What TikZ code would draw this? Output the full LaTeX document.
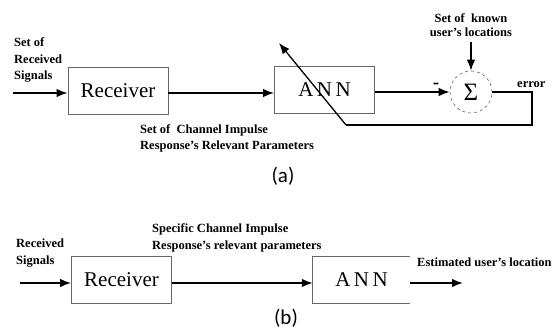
\documentclass[tikz,border=0pt]{standalone}
\usepackage{fontspec}
\setmainfont{Liberation Serif}
\newfontfamily\capfont{Carlito}
\usetikzlibrary{arrows.meta}
\begin{document}
\begin{tikzpicture}[x=1pt,y=-1pt,
  box/.style={draw=black!60, line width=0.8pt, minimum width=100pt, minimum height=47pt, inner sep=0pt, font=\fontsize{21}{22}\selectfont},
  openbox/.style={minimum width=97pt, minimum height=46pt, inner sep=0pt, font=\fontsize{21}{22}\selectfont},
  sig/.style={line width=1.6pt, -{Latex[length=11pt,width=8.5pt]}},
  lbl/.style={font=\bfseries\fontsize{12.5}{16.7}\selectfont, align=left, inner sep=0pt},
  lbls/.style={font=\bfseries\fontsize{12.5}{14}\selectfont, align=center, inner sep=0pt},
  captxt/.style={font=\capfont\fontsize{21}{22}\selectfont, inner sep=0pt}]
\useasboundingbox (0,0) rectangle (554,330);
% ---------- (a) ----------
\coordinate (in1) at (13,93);
\node[box] (rx1) at (118,90.5) {Receiver};
\node[box] (ann1) at (324.5,90) {A\,N\,N};
\node[draw=black!60, dashed, line width=0.6pt, circle, minimum size=42pt, inner sep=0pt, font=\fontsize{25}{25}\selectfont] (sum) at (471,92) {Σ};
\node[lbl, anchor=west] (sr) at (14,60) {Set of\\Received\\Signals};
\node[lbls] (known) at (471,25) {Set of \ known\\user's locations};
\node[lbl, anchor=west] (err) at (517,85) {error};
\node[lbl, anchor=west] (par1) at (140,138.5) {Set of \ Channel Impulse\\Response's Relevant Parameters};
\node[font=\bfseries\fontsize{19}{19}\selectfont, inner sep=0pt] (minus) at (436,86) {-};
\node[captxt] (capa) at (283,176) {(a)};
\coordinate (f1) at (532,92);
\coordinate (f2) at (532,125);
\coordinate (f3) at (346,125);
\coordinate (tip) at (279,43);
\draw[sig] (in1) -- (in1 -| rx1.west);
\draw[sig] (in1 -| rx1.east) -- (in1 -| ann1.west);
\draw[sig] (sum.west -| ann1.east) -- (sum.west);
\draw[sig] (known.south) ++(0,5) -- (sum.north);
\draw[line width=1.2pt] (sum.east) -- (f1) -- (f2) -- (f3);
\draw[line width=1.3pt, -{Latex[length=11pt,width=8.5pt]}] (f3) -- (tip);
% ---------- (b) ----------
\coordinate (in2) at (20,283);
\node[box] (rx2) at (121.5,280) {Receiver};
\node[openbox] (ann2) at (361.5,280) {A\,N\,N};
\draw[black!60, line width=0.8pt] (ann2.north east) -- (ann2.north west) -- (ann2.south west) -- (ann2.south east);
\coordinate (out2) at (463,283);
\node[lbl, anchor=west] (sr2) at (16,253) {Received\\Signals};
\node[lbl, anchor=west] (par2) at (152,238) {Specific Channel Impulse\\Response's relevant parameters};
\node[lbl, anchor=west] (est) at (417,262) {Estimated user's location};
\node[captxt] (capb) at (286,318) {(b)};
\draw[sig] (in2) -- (in2 -| rx2.west);
\draw[sig] (in2 -| rx2.east) -- (in2 -| ann2.west);
\draw[sig] (in2 -| ann2.east) -- (out2);
\end{tikzpicture}
\end{document}
